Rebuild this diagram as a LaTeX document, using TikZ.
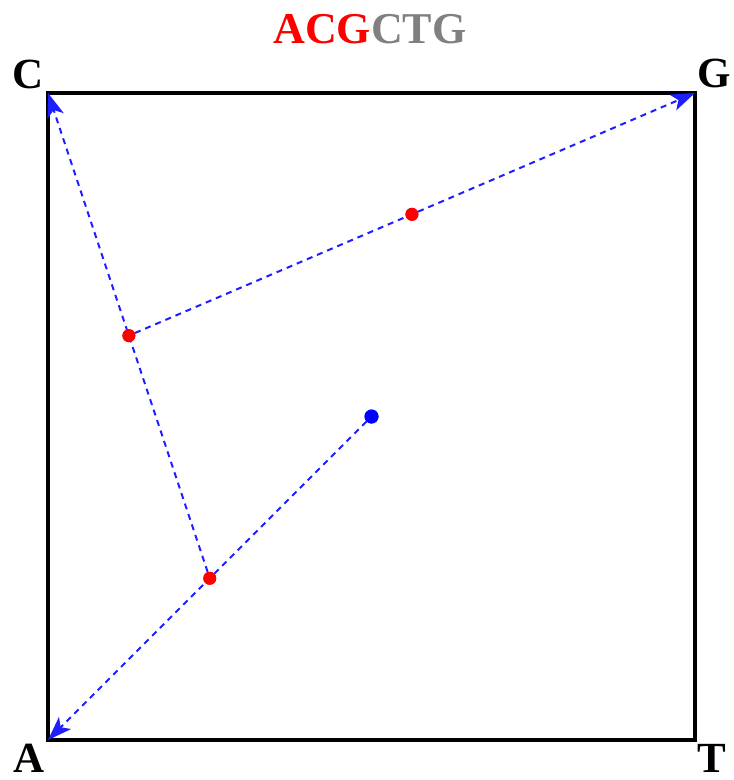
\documentclass[tikz,border=0pt]{standalone}
\usepackage{fontspec}
\setmainfont{Liberation Serif}
\usetikzlibrary{arrows.meta,calc}
\definecolor{walkblue}{RGB}{30,30,255}

\begin{document}
\begin{tikzpicture}[x=1pt,y=-1pt,
    corner/.style={font=\fontsize{43}{43}\selectfont\bfseries,anchor=base,inner sep=0pt},
    walk/.style={walkblue,line width=2pt,dash pattern=on 6pt off 5pt,
      -{Stealth[length=24pt,width=17pt,inset=6pt]}},
    hit/.style={circle,fill=red,inner sep=0pt,minimum size=13pt},
    seed/.style={circle,fill=blue,inner sep=0pt,minimum size=14pt}]
  \useasboundingbox (0,0) rectangle (734,780);
  % the square
  \coordinate (A) at (48,740);
  \coordinate (C) at (48,93);
  \coordinate (G) at (695,93);
  \coordinate (T) at (695,740);
  \draw[line width=3.5pt] (A) -- (C) -- (G) -- (T) -- cycle;
  % corner letters
  \node[corner] (labC) at (28,88) {C};
  \node[corner] (labG) at (714,87) {G};
  \node[corner] (labA) at (29,772) {A};
  \node[corner] (labT) at (712,772) {T};
  % sequence
  \node[font=\fontsize{44}{44}\selectfont\bfseries,anchor=base,inner sep=0pt] (seq) at (370,43)
    {\textcolor{red}{ACG}\textcolor{gray}{CTG}};
  % the walk
  \node[seed] (p0) at (371.5,416.5) {};
  \node[hit] (p1) at ($(p0)!0.5!(A)$) {};
  \node[hit] (p2) at ($(p1)!0.5!(C)$) {};
  \node[hit] (p3) at ($(p2)!0.5!(G)$) {};
  \draw[walk] (p0) -- (A);
  \draw[walk] (p1) -- (C);
  \draw[walk] (p2) -- (G);
  \node[hit] at (p1) {};
  \node[hit] at (p2) {};
  \node[hit] at (p3) {};
  \node[seed] at (p0) {};
\end{tikzpicture}
\end{document}
